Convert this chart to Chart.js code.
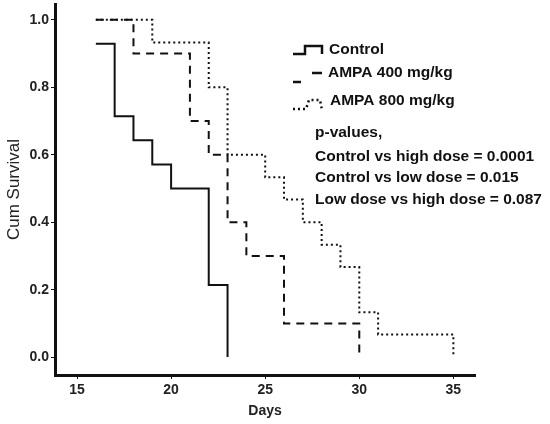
<!DOCTYPE html>
<html lang="en">
<head>
    <meta charset="UTF-8">
    <title>Cum Survival</title>
    <script src="https://cdn.jsdelivr.net/npm/chart.js"></script>
    <style>
        html, body { margin: 0; padding: 0; background: #fff; }
        #wrap { width: 550px; height: 424px; }
    </style>
</head>
<body>
    <div id="wrap"><canvas id="chartSurvival"></canvas></div>
<script>
    // Kaplan-Meier steps: day of event and survival after it
    const controlDays = [16, 17, 18, 19, 20, 22, 23];
    const controlSurv = [0.929, 0.714, 0.643, 0.571, 0.5, 0.214, 0];
    const lowDays = [16, 18, 21, 22, 23, 24, 26, 30];
    const lowSurv = [1, 0.9, 0.7, 0.6, 0.4, 0.3, 0.1, 0];
    const highDays = [16, 19, 22, 23, 25, 26, 27, 28, 29, 30, 31, 35];
    const highSurv = [1, 0.933, 0.8, 0.6, 0.533, 0.467, 0.4, 0.333, 0.267, 0.133, 0.067, 0];

    const xTicks = [15, 20, 25, 30, 35];
    const yTicks = [0, 0.2, 0.4, 0.6, 0.8, 1.0];

    const legendLabels = ['Control', 'AMPA 400 mg/kg', 'AMPA 800 mg/kg'];
    const pValueLines = [
        'p-values,',
        'Control vs high dose = 0.0001',
        'Control vs low dose = 0.015',
        'Low dose vs high dose = 0.087'
    ];

    function toPoints(days, surv) {
        return days.map((d, i) => ({ x: d, y: surv[i] }));
    }

    const fontFamily = 'Arial, "Liberation Sans", sans-serif';

    const notesPlugin = {
        id: 'notes',
        afterDraw(chart) {
            const ctx = chart.ctx;
            ctx.save();
            ctx.fillStyle = '#111';
            ctx.font = 'bold 15.5px ' + fontFamily;
            ctx.textBaseline = 'middle';
            ctx.strokeStyle = '#111';
            ctx.lineWidth = 2.5;

            // Control icon
            ctx.setLineDash([]);
            ctx.beginPath();
            ctx.moveTo(293, 54); ctx.lineTo(305, 54); ctx.lineTo(305, 46);
            ctx.lineTo(322, 46); ctx.lineTo(322, 54);
            ctx.stroke();
            ctx.fillText(legendLabels[0], 329, 50);

            // AMPA 400 icon
            ctx.beginPath();
            ctx.moveTo(293, 82); ctx.lineTo(301, 82);
            ctx.moveTo(312, 73); ctx.lineTo(322, 73);
            ctx.stroke();
            ctx.fillText(legendLabels[1], 328, 73);

            // AMPA 800 icon
            ctx.setLineDash([2, 3]);
            ctx.beginPath();
            ctx.moveTo(293, 109); ctx.lineTo(306, 109); ctx.lineTo(309, 100);
            ctx.lineTo(320, 100); ctx.lineTo(322, 110);
            ctx.stroke();
            ctx.setLineDash([]);
            ctx.fillText(legendLabels[2], 330, 101);

            const ys = [133, 157, 178, 200];
            pValueLines.forEach((t, i) => ctx.fillText(t, 315, ys[i]));
            ctx.restore();
        }
    };

    const survivalChart = new Chart(document.getElementById('chartSurvival'), {
        type: 'line',
        data: {
            datasets: [
                {
                    label: legendLabels[0],
                    data: toPoints(controlDays, controlSurv),
                    stepped: true,
                    borderColor: '#111',
                    borderWidth: 2,
                    pointRadius: 0
                },
                {
                    label: legendLabels[1],
                    data: toPoints(lowDays, lowSurv),
                    stepped: true,
                    borderColor: '#111',
                    borderWidth: 2,
                    borderDash: [8, 6],
                    pointRadius: 0
                },
                {
                    label: legendLabels[2],
                    data: toPoints(highDays, highSurv),
                    stepped: true,
                    borderColor: '#111',
                    borderWidth: 2,
                    borderDash: [2, 3],
                    pointRadius: 0
                }
            ]
        },
        options: {
            responsive: true,
            maintainAspectRatio: false,
            animation: { duration: 0 },
            layout: { padding: { top: 4, right: 75, left: 0, bottom: 0 } },
            plugins: {
                legend: { display: false },
                tooltip: { enabled: false }
            },
            scales: {
                x: {
                    type: 'linear',
                    min: 13.83,
                    max: 36.15,
                    afterBuildTicks: axis => { axis.ticks = xTicks.map(v => ({ value: v })); },
                    afterFit: scale => {
                        scale.height = 49;
                        scale.paddingLeft = 0;
                        scale.paddingRight = 0;
                    },
                    border: { display: true, color: '#111', width: 3 },
                    grid: { drawOnChartArea: false, tickLength: 4, color: '#111', tickWidth: 1 },
                    ticks: {
                        color: '#222',
                        font: { family: fontFamily, size: 14, weight: 'bold' },
                        padding: 3,
                        maxRotation: 0
                    },
                    title: {
                        display: true,
                        text: 'Days',
                        color: '#222',
                        font: { family: fontFamily, size: 14, weight: 'bold' },
                        padding: { top: 4 }
                    }
                },
                y: {
                    min: -0.053,
                    max: 1.047,
                    afterBuildTicks: axis => { axis.ticks = yTicks.map(v => ({ value: v })); },
                    afterFit: scale => {
                        scale.width = 55;
                        scale.paddingTop = 0;
                        scale.paddingBottom = 0;
                    },
                    border: { display: true, color: '#111', width: 3 },
                    grid: { drawOnChartArea: false, tickLength: 4, color: '#111', tickWidth: 1 },
                    ticks: {
                        color: '#222',
                        font: { family: fontFamily, size: 14, weight: 'bold' },
                        padding: 2,
                        callback: v => v.toFixed(1)
                    },
                    title: {
                        display: true,
                        text: 'Cum Survival',
                        color: '#222',
                        font: { family: fontFamily, size: 17 },
                        padding: { bottom: 0 }
                    }
                }
            }
        },
        plugins: [notesPlugin]
    });
</script>
</body>
</html>
